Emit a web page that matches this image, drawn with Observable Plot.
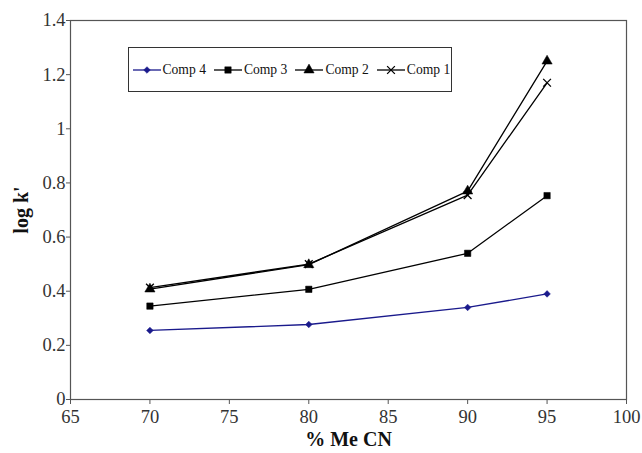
<!DOCTYPE html>
<html><head><meta charset="utf-8">
<script src="https://cdn.jsdelivr.net/npm/d3@7"></script>
<script src="https://cdn.jsdelivr.net/npm/@observablehq/plot@0.6"></script>
<style>
body{margin:0;background:#fff;}
#wrap{position:relative;width:642px;height:453px;}
#legend{position:absolute;left:128px;top:47px;width:324px;height:45px;border:1.5px solid #333;background:#fff;
  display:flex;align-items:center;padding-left:3.5px;box-sizing:border-box;font-family:"Liberation Serif","Times New Roman",Times,serif;font-size:13.6px;color:#111;white-space:nowrap;}
#legend .item{display:flex;align-items:center;margin-right:8px;}
#legend .item span{margin-left:2px;}
</style></head>
<body><div id="wrap"></div>
<script>
const xValues = [70, 80, 90, 95];
const comp4 = [0.255, 0.277, 0.340, 0.390];
const comp3 = [0.345, 0.407, 0.540, 0.753];
const comp2 = [0.408, 0.498, 0.770, 1.250];
const comp1 = [0.413, 0.500, 0.755, 1.170];
const seriesNames = ["Comp 4", "Comp 3", "Comp 2", "Comp 1"];
const seriesColors = ["#1a1a8c", "#000", "#000", "#000"];
const seriesSymbols = ["diamond2", "square", "triangle", "times"];
const seriesR = [3.0, 3.6, 3.8, 3.6];
const xTicks = [65, 70, 75, 80, 85, 90, 95, 100];
const yTicks = [0, 0.2, 0.4, 0.6, 0.8, 1, 1.2, 1.4];
const FONT = "Liberation Serif, Times New Roman, serif";

const allSeries = [comp4, comp3, comp2, comp1];
const marks = [];
allSeries.forEach((vals, i) => {
  const data = xValues.map((x, j) => ({x, y: vals[j]}));
  marks.push(Plot.line(data, {x: "x", y: "y", stroke: seriesColors[i], strokeWidth: 1.3}));
  const sym = seriesSymbols[i];
  const filled = sym !== "times";
  marks.push(Plot.dot(data, {x: "x", y: "y", symbol: () => sym, r: seriesR[i],
    fill: filled ? seriesColors[i] : "none", stroke: seriesColors[i], strokeWidth: filled ? 0.5 : 1.3}));
});

const chart = Plot.plot({
  width: 642, height: 453,
  marginLeft: 70, marginRight: 16, marginTop: 20, marginBottom: 54,
  style: {fontFamily: FONT, fontSize: "18.5px", color: "#333", background: "#fff"},
  x: {domain: [65, 100]},
  y: {domain: [0, 1.4]},
  symbol: {type: "identity"},
  marks: [
    Plot.frame({stroke: "#555", strokeWidth: 1.2}),
    Plot.axisX({ticks: xTicks, tickSize: 5, tickPadding: 5, fontFamily: FONT, fontSize: 18.5,
      label: "% Me CN", labelAnchor: "center", labelArrow: "none", labelOffset: 46, stroke: "#555"}),
    Plot.axisY({ticks: yTicks, tickSize: 4, tickPadding: 1, fontFamily: FONT, fontSize: 18.5, tickFormat: d => String(+d.toFixed(1)),
      label: "log k'", labelAnchor: "center", labelArrow: "none", labelOffset: 57, stroke: "#555"}),
    ...marks
  ]
});
chart.setAttribute("font-family", FONT);
chart.querySelectorAll("text").forEach(t => { t.setAttribute("font-family", FONT); t.style.fontFamily = FONT; });
chart.querySelectorAll('g[aria-label="y-axis label"] text, g[aria-label="x-axis label"] text').forEach(t => {
  t.style.fontWeight = "bold"; t.style.fontSize = "20px"; t.style.fill = "#111";
});
const wrap = document.getElementById("wrap");
wrap.appendChild(chart);

// Legend
const legend = document.createElement("div");
legend.id = "legend";
const symMap = {diamond2: d3.symbolDiamond2, square: d3.symbolSquare, triangle: d3.symbolTriangle, times: d3.symbolTimes};
seriesNames.forEach((name, i) => {
  const item = document.createElement("div");
  item.className = "item";
  const s = d3.create("svg").attr("width", 28).attr("height", 12);
  s.append("line").attr("x1", 0).attr("x2", 28).attr("y1", 6).attr("y2", 6).attr("stroke", seriesColors[i]).attr("stroke-width", 1.3);
  const filled = seriesSymbols[i] !== "times";
  s.append("path").attr("transform", "translate(14,6)")
    .attr("d", d3.symbol(symMap[seriesSymbols[i]], Math.PI * seriesR[i] * seriesR[i])())
    .attr("fill", filled ? seriesColors[i] : "none").attr("stroke", seriesColors[i]).attr("stroke-width", filled ? 0.5 : 1.3);
  item.appendChild(s.node());
  const t = document.createElement("span");
  t.textContent = name;
  item.appendChild(t);
  legend.appendChild(item);
});
wrap.appendChild(legend);
</script></body></html>
